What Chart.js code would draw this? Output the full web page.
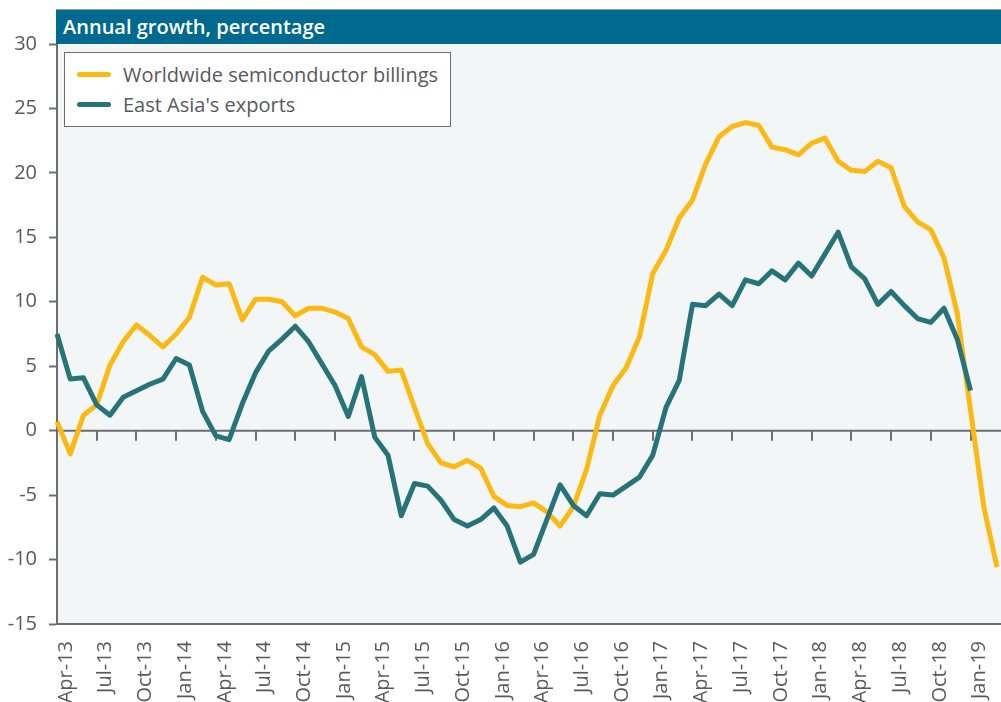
<!DOCTYPE html>
<html>
<head>
<meta charset="utf-8">
<script src="https://cdn.jsdelivr.net/npm/chart.js@4.4.1/dist/chart.umd.min.js"></script>
<style>
  body { margin: 0; background: #ffffff; }
  #wrap { position: relative; width: 1001px; height: 702px; overflow: hidden; }
  #title-bar {
    position: absolute; left: 56px; top: 9px; width: 945px; height: 35px;
    background: #006990; border-top: 1px solid #9a9a9a; box-sizing: border-box;
    color: #ffffff; font: 600 20px "Open Sans", sans-serif; line-height: 33px;
    padding-left: 7px;
  }
  #legend {
    position: absolute; left: 64px; top: 52px; width: 387px; height: 75px;
    background: #ffffff; border: 1.5px solid #6d6e71; box-sizing: border-box;
    font: 20px "Open Sans", sans-serif; color: #58595b;
  }
  .item { position: absolute; left: 0; height: 30px; line-height: 30px; }
  .swatch {
    position: absolute; left: 12px; top: 12px; width: 34px; height: 5px; border-radius: 3px;
  }
  .item span.text { position: absolute; left: 58px; white-space: nowrap; }
</style>
</head>
<body>
<div id="wrap">
  <canvas id="chart" width="1001" height="702"></canvas>
  <div id="title-bar">Annual growth, percentage</div>
  <div id="legend"></div>
</div>
<script>
// Months along the x axis (one per data point)
const months = [
  "Apr-13", "May-13", "Jun-13", "Jul-13", "Aug-13", "Sep-13", "Oct-13", "Nov-13", "Dec-13",
  "Jan-14", "Feb-14", "Mar-14", "Apr-14", "May-14", "Jun-14", "Jul-14", "Aug-14", "Sep-14",
  "Oct-14", "Nov-14", "Dec-14", "Jan-15", "Feb-15", "Mar-15", "Apr-15", "May-15", "Jun-15",
  "Jul-15", "Aug-15", "Sep-15", "Oct-15", "Nov-15", "Dec-15", "Jan-16", "Feb-16", "Mar-16",
  "Apr-16", "May-16", "Jun-16", "Jul-16", "Aug-16", "Sep-16", "Oct-16", "Nov-16", "Dec-16",
  "Jan-17", "Feb-17", "Mar-17", "Apr-17", "May-17", "Jun-17", "Jul-17", "Aug-17", "Sep-17",
  "Oct-17", "Nov-17", "Dec-17", "Jan-18", "Feb-18", "Mar-18", "Apr-18", "May-18", "Jun-18",
  "Jul-18", "Aug-18", "Sep-18", "Oct-18", "Nov-18", "Dec-18", "Jan-19", "Feb-19", "Mar-19"
];

// Worldwide semiconductor billings, annual growth (%)
const semiconductorBillings = [
  0.7, -1.8, 1.2, 2.0, 5.1, 6.9, 8.2, 7.4, 6.5,
  7.5, 8.8, 11.9, 11.3, 11.4, 8.6, 10.2, 10.2, 10.0,
  8.9, 9.5, 9.5, 9.2, 8.7, 6.5, 5.9, 4.6, 4.7,
  1.8, -1.0, -2.5, -2.8, -2.3, -2.9, -5.1, -5.8, -5.9,
  -5.6, -6.3, -7.4, -5.9, -3.0, 1.2, 3.5, 4.9, 7.3,
  12.2, 14.0, 16.5, 17.9, 20.7, 22.8, 23.6, 23.9, 23.7,
  22.0, 21.8, 21.4, 22.3, 22.7, 20.9, 20.2, 20.1, 20.9,
  20.4, 17.4, 16.2, 15.6, 13.4, 9.1, 1.6, -5.9, -10.6
];

// East Asia's exports, annual growth (%)
const eastAsiaExports = [
  7.5, 4.0, 4.1, 2.0, 1.2, 2.6, 3.1, 3.6, 4.0,
  5.6, 5.1, 1.5, -0.4, -0.7, 2.1, 4.5, 6.2, 7.1,
  8.1, 6.9, 5.2, 3.5, 1.1, 4.2, -0.5, -1.9, -6.6,
  -4.1, -4.3, -5.4, -6.9, -7.4, -6.9, -6.0, -7.4, -10.2,
  -9.6, -6.9, -4.2, -5.8, -6.6, -4.9, -5.0, -4.3, -3.6,
  -1.9, 1.8, 3.9, 9.8, 9.7, 10.6, 9.7, 11.7, 11.4,
  12.4, 11.7, 13.0, 12.0, 13.7, 15.4, 12.7, 11.8, 9.8,
  10.8, 9.7, 8.7, 8.4, 9.5, 7.1, 3.1
];

// Y axis range and step
const yMin = -15;
const yMax = 30;
const yStep = 5;

const seriesNames = ["Worldwide semiconductor billings", "East Asia's exports"];
const seriesColors = ["#fdb913", "#26737a"];
const axisGray = "#6d6e71";
const textGray = "#58595b";

Chart.defaults.font.family = "'Open Sans', sans-serif";
Chart.defaults.color = textGray;

// Plot background, zero line, bottom line and x tick marks on the zero line
const plotDecor = {
  id: "plotDecor",
  beforeDraw(chart) {
    const { ctx, chartArea } = chart;
    ctx.save();
    ctx.fillStyle = "#f2f6f7";
    ctx.fillRect(chartArea.left, chartArea.top, chart.width - chartArea.left, chartArea.bottom - chartArea.top);
    ctx.restore();
  },
  beforeDatasetsDraw(chart) {
    const { ctx, chartArea, scales } = chart;
    const y0 = scales.y.getPixelForValue(0);
    ctx.save();
    ctx.strokeStyle = axisGray;
    ctx.lineWidth = 2;
    ctx.beginPath();
    ctx.moveTo(chartArea.left, y0);
    ctx.lineTo(chart.width, y0);
    ctx.moveTo(chartArea.left, chartArea.bottom);
    ctx.lineTo(chart.width, chartArea.bottom);
    for (let i = 3; i < months.length; i += 3) {
      const x = Math.round(scales.x.getPixelForValue(i));
      ctx.moveTo(x, y0);
      ctx.lineTo(x, y0 + 10);
    }
    ctx.stroke();
    ctx.restore();
  },
};

const ctx = document.getElementById("chart").getContext("2d");
new Chart(ctx, {
  type: "line",
  data: {
    labels: months,
    datasets: [
      {
        label: seriesNames[0],
        data: semiconductorBillings,
        borderColor: seriesColors[0],
        order: 1,
      },
      {
        label: seriesNames[1],
        data: eastAsiaExports,
        borderColor: seriesColors[1],
        order: 0,
      },
    ],
  },
  options: {
    responsive: false,
    animation: false,
    devicePixelRatio: 1,
    layout: { padding: { top: 44, right: 4, left: 0, bottom: 0 } },
    elements: {
      line: { borderWidth: 5, tension: 0, borderJoinStyle: "round", borderCapStyle: "butt", fill: false },
      point: { radius: 0, hoverRadius: 0 },
    },
    plugins: {
      legend: { display: false },
      tooltip: { enabled: false },
      title: { display: false },
    },
    scales: {
      x: {
        type: "category",
        offset: false,
        grid: { display: false, drawTicks: false },
        border: { display: false },
        ticks: {
          autoSkip: false,
          minRotation: 90,
          maxRotation: 90,
          padding: 17,
          labelOffset: 9,
          font: { size: 20 },
          color: textGray,
          callback: (value, index) => (index % 3 === 0 ? months[index] : ""),
        },
        afterFit: (scale) => {
          scale.height = 78;
          scale.paddingLeft = 0;
          scale.paddingRight = 0;
        },
      },
      y: {
        min: yMin,
        max: yMax,
        grid: {
          drawOnChartArea: false,
          tickLength: 8,
          tickColor: axisGray,
          tickWidth: 2,
        },
        border: { display: true, color: axisGray, width: 2 },
        ticks: {
          stepSize: yStep,
          padding: 12,
          font: { size: 20 },
          color: textGray,
        },
        afterFit: (scale) => {
          scale.width = 57;
          scale.paddingTop = 0;
          scale.paddingBottom = 0;
        },
      },
    },
  },
  plugins: [plotDecor],
});

// Legend built from the series names and colours
const legend = document.getElementById("legend");
seriesNames.forEach((name, i) => {
  const item = document.createElement("div");
  item.className = "item";
  item.style.top = (7 + i * 30) + "px";
  item.innerHTML = `<div class="swatch" style="background:${seriesColors[i]}"></div><span class="text">${name}</span>`;
  legend.appendChild(item);
});
</script>
</body>
</html>
